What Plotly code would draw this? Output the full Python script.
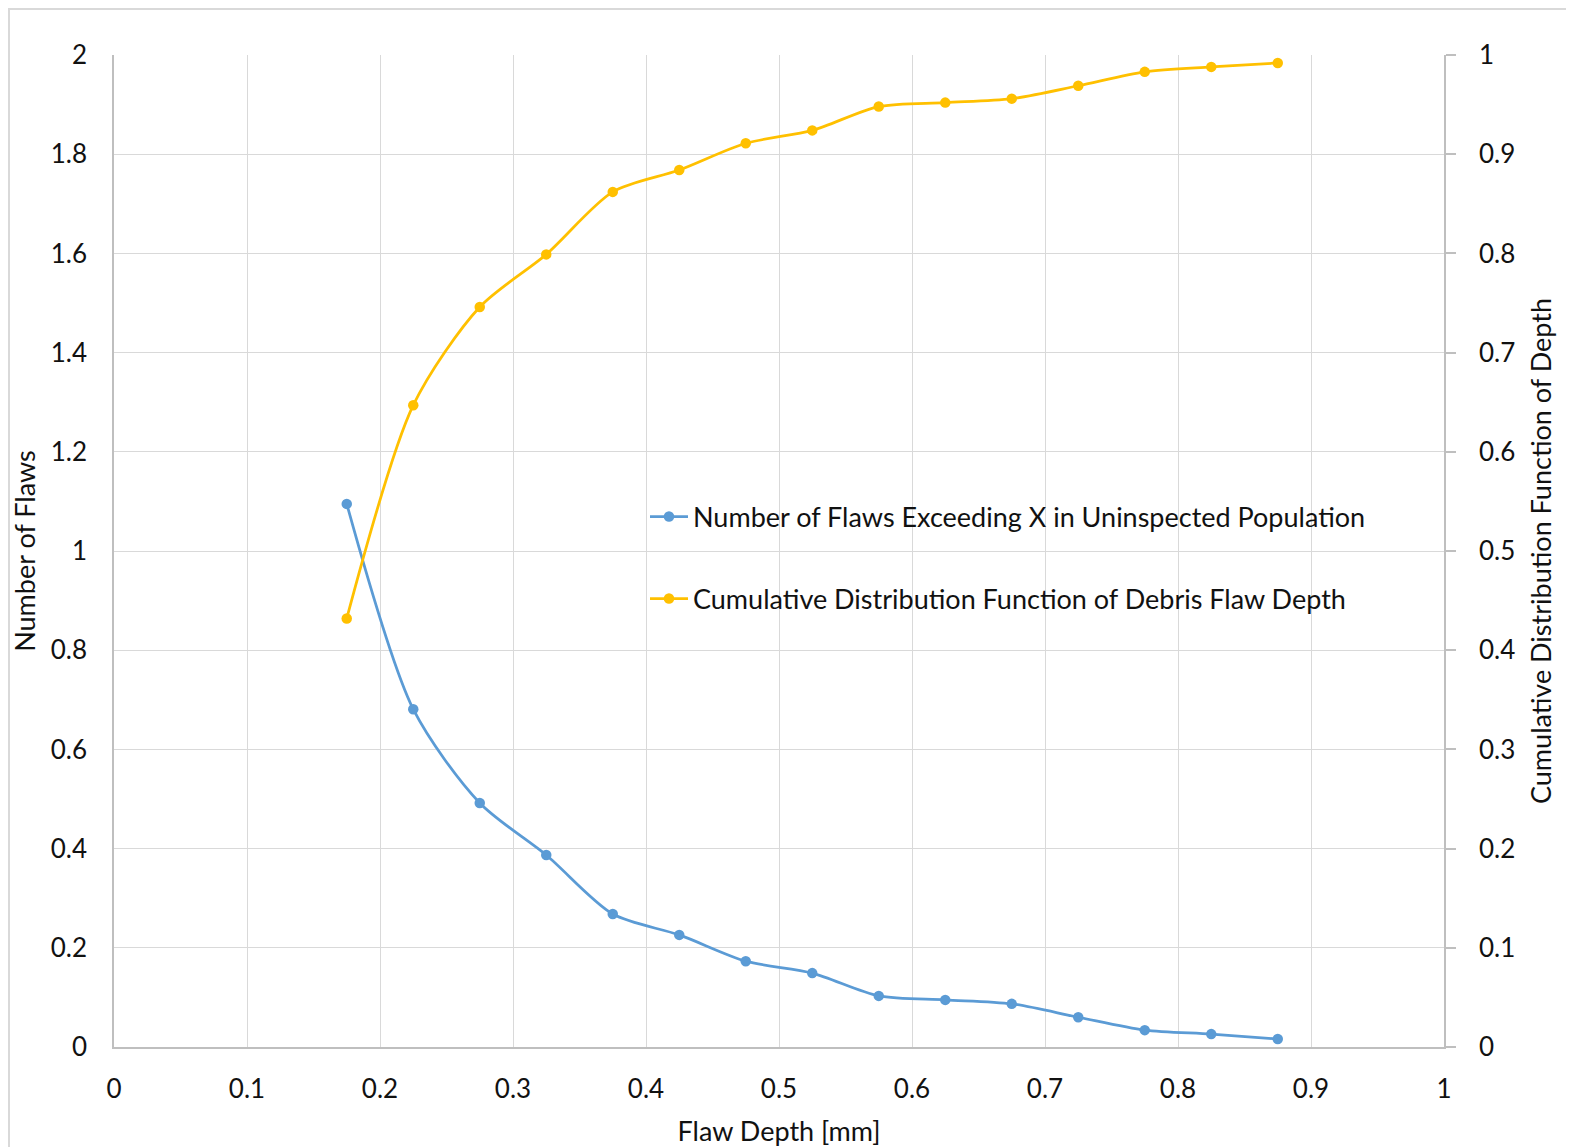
import plotly.graph_objects as go

depth = [0.175, 0.225, 0.275, 0.325, 0.375, 0.425, 0.475, 0.525, 0.575, 0.625, 0.675, 0.725, 0.775, 0.825, 0.875]
num_flaws = [1.095, 0.681, 0.492, 0.387, 0.268, 0.226, 0.173, 0.149, 0.103, 0.095, 0.087, 0.060, 0.034, 0.026, 0.016]
cdf_depth = [0.432, 0.647, 0.746, 0.799, 0.862, 0.884, 0.911, 0.924, 0.948, 0.952, 0.956, 0.969, 0.983, 0.988, 0.992]

x_ticks = [0, 0.1, 0.2, 0.3, 0.4, 0.5, 0.6, 0.7, 0.8, 0.9, 1]
x_tick_labels = ["0", "0.1", "0.2", "0.3", "0.4", "0.5", "0.6", "0.7", "0.8", "0.9", "1"]
y1_ticks = [0, 0.2, 0.4, 0.6, 0.8, 1, 1.2, 1.4, 1.6, 1.8, 2]
y1_tick_labels = ["0", "0.2", "0.4", "0.6", "0.8", "1", "1.2", "1.4", "1.6", "1.8", "2"]
y2_ticks = [0, 0.1, 0.2, 0.3, 0.4, 0.5, 0.6, 0.7, 0.8, 0.9, 1]
y2_tick_labels = ["0", "0.1", "0.2", "0.3", "0.4", "0.5", "0.6", "0.7", "0.8", "0.9", "1"]

BLUE = "#5B9BD5"
ORANGE = "#FFC000"
GRID = "#D9D9D9"
AXIS = "#BFBFBF"
FONT = "Lato, 'Open Sans', sans-serif"
TXT = "#111111"

OFF = 8  # page body margin
W, H = 1566, 1139
L, R, T, B = 106, 130, 47, 100

fig = go.Figure()
fig.add_trace(go.Scatter(
    x=depth, y=num_flaws, mode="lines+markers",
    name="Number of Flaws Exceeding X in Uninspected Population",
    line=dict(color=BLUE, width=2.75, shape="spline", smoothing=0.8),
    marker=dict(color=BLUE, size=10.5),
    legend="legend", showlegend=True,
))
fig.add_trace(go.Scatter(
    x=depth, y=cdf_depth, mode="lines+markers", yaxis="y2",
    name="Cumulative Distribution Function of Debris Flaw Depth",
    line=dict(color=ORANGE, width=2.75, shape="spline", smoothing=0.8),
    marker=dict(color=ORANGE, size=10.5),
    legend="legend2", showlegend=True,
))

pw = W - L - R
ph = H - T - B
def px_x(px):
    return (px - OFF - L) / pw
def px_y(py):
    return (H - B - (py - OFF)) / ph

leg_common = dict(
    xanchor="left", yanchor="middle", bgcolor="rgba(0,0,0,0)",
    font=dict(family=FONT, size=27, color=TXT), itemwidth=38, visible=True,
)

fig.update_layout(
    width=W, height=H, showlegend=True,
    margin=dict(l=L, r=R, t=T, b=B),
    paper_bgcolor="white", plot_bgcolor="white",
    font=dict(family=FONT, size=26, color=TXT),
    xaxis=dict(
        range=[0, 1], tickvals=x_ticks, ticktext=x_tick_labels,
        showgrid=True, gridcolor=GRID, gridwidth=1,
        showline=True, linecolor=AXIS, linewidth=1.5,
        zeroline=False, ticks="", ticklabelstandoff=18, automargin=False,
        title=dict(text="Flaw Depth [mm]", font=dict(size=27), standoff=19),
        tickfont=dict(size=26),
    ),
    yaxis=dict(
        range=[0, 2], tickvals=y1_ticks, ticktext=y1_tick_labels,
        showgrid=True, gridcolor=GRID, gridwidth=1,
        showline=True, linecolor=AXIS, linewidth=1.5,
        zeroline=False, ticks="", ticklabelstandoff=20, automargin=False,
        title=dict(text="Number of Flaws", font=dict(size=27), standoff=8),
        tickfont=dict(size=26),
    ),
    yaxis2=dict(
        range=[0, 1], tickvals=y2_ticks, ticktext=y2_tick_labels,
        overlaying="y", side="right", showgrid=False,
        showline=True, linecolor=AXIS, linewidth=1.5,
        zeroline=False, ticks="outside", ticklen=10, tickcolor=AXIS, tickwidth=1.5,
        ticklabelstandoff=18, automargin=False,
        title=dict(text="Cumulative Distribution Function of Depth", font=dict(size=27), standoff=18),
        tickfont=dict(size=26),
    ),
    legend=dict(x=px_x(645), y=px_y(517), **leg_common),
    legend2=dict(x=px_x(645), y=px_y(599), **leg_common),
    shapes=[dict(
        type="rect", xref="paper", yref="paper",
        x0=px_x(OFF + 1), x1=px_x(1700), y0=px_y(1300), y1=px_y(OFF + 1),
        line=dict(color=GRID, width=2), fillcolor="rgba(0,0,0,0)", layer="below",
    )],
)

fig.write_html("out.html")
